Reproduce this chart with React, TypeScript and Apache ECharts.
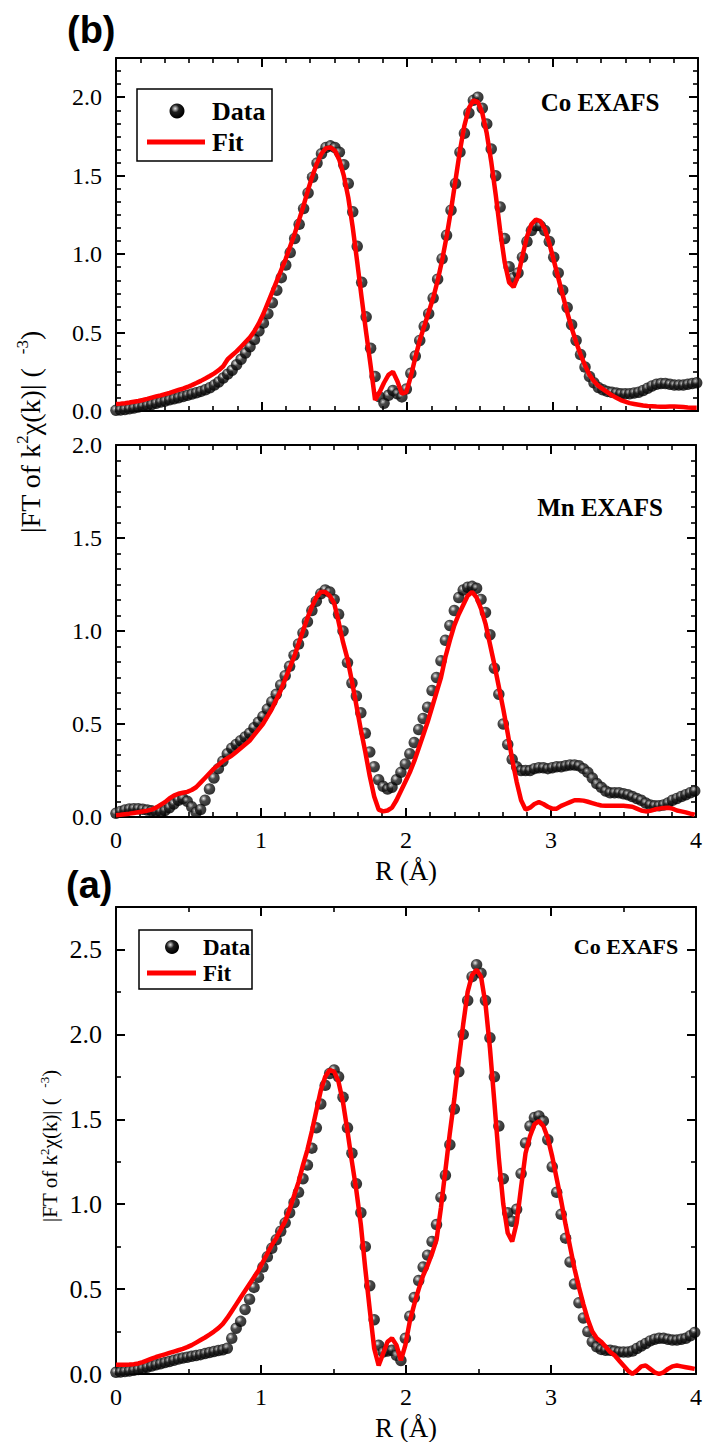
import React, { useEffect, useRef } from "react";
import * as echarts from "echarts";

// R grid step (Å) of the FT data
const R_STEP = 0.0307;

// x tick labels
const xTickLabels = ["0", "1", "2", "3", "4"];

// (b) top panel: Co EXAFS
const coB_data = [
  0.005, 0.007, 0.01, 0.014, 0.019, 0.025, 0.03, 0.036, 0.042, 0.05,
  0.057, 0.064, 0.071, 0.078, 0.085, 0.092, 0.1, 0.108, 0.116, 0.125,
  0.135, 0.148, 0.165, 0.185, 0.21, 0.235, 0.26, 0.295, 0.33, 0.37,
  0.41, 0.455, 0.51, 0.56, 0.62, 0.69, 0.77, 0.85, 0.93, 1.01,
  1.1, 1.19, 1.29, 1.39, 1.49, 1.58, 1.64, 1.68, 1.69, 1.68,
  1.65, 1.57, 1.45, 1.27, 1.05, 0.82, 0.6, 0.4, 0.22, 0.09,
  0.05, 0.1, 0.13, 0.11, 0.09, 0.14, 0.24, 0.35, 0.45, 0.54,
  0.62, 0.72, 0.84, 0.97, 1.12, 1.28, 1.45, 1.65, 1.77, 1.9,
  1.98, 2.0, 1.93, 1.83, 1.67, 1.5, 1.3, 1.1, 0.92, 0.85,
  0.88, 0.98, 1.08, 1.15, 1.18, 1.18, 1.15, 1.08, 0.98, 0.88,
  0.77, 0.66, 0.55, 0.45, 0.36, 0.28, 0.22, 0.18, 0.15, 0.135,
  0.125, 0.12, 0.115, 0.11, 0.11, 0.11, 0.115, 0.12, 0.13, 0.145,
  0.16, 0.17, 0.175, 0.175, 0.17, 0.165, 0.165, 0.165, 0.17, 0.175, 0.18,
];
const coB_fit = [
  0.045, 0.047, 0.05, 0.054, 0.059, 0.064, 0.07, 0.077, 0.085, 0.093,
  0.1, 0.108, 0.116, 0.125, 0.134, 0.143, 0.153, 0.165, 0.178, 0.192,
  0.207, 0.223, 0.24, 0.26, 0.285, 0.33, 0.355, 0.38, 0.41, 0.44,
  0.47, 0.51, 0.56, 0.62, 0.69, 0.76, 0.83, 0.9, 0.97, 1.05,
  1.13, 1.22, 1.31, 1.41, 1.5, 1.58, 1.64, 1.675, 1.68, 1.66,
  1.6, 1.5, 1.36, 1.17, 0.95, 0.72, 0.5, 0.29, 0.07, 0.12,
  0.18, 0.23, 0.25, 0.19, 0.11, 0.12, 0.22, 0.34, 0.45, 0.54,
  0.63, 0.72, 0.83, 0.96, 1.11, 1.28, 1.47, 1.66, 1.82, 1.93,
  1.98, 1.97, 1.9, 1.77, 1.59, 1.38, 1.15, 0.95, 0.82, 0.79,
  0.86, 0.99, 1.11, 1.19, 1.22, 1.21, 1.16, 1.07, 0.96, 0.85,
  0.74, 0.63, 0.53, 0.44, 0.36, 0.29, 0.23, 0.19, 0.16, 0.14,
  0.12, 0.1, 0.085, 0.07, 0.06, 0.05, 0.045, 0.04, 0.035, 0.032,
  0.03, 0.028, 0.027, 0.027, 0.028, 0.028, 0.027, 0.025, 0.022, 0.02, 0.02,
];

// (b) middle panel: Mn EXAFS
const mn_data = [
  0.02, 0.03, 0.038, 0.043, 0.045, 0.045, 0.042, 0.038, 0.033, 0.03,
  0.03, 0.035, 0.05, 0.07, 0.09, 0.1, 0.085, 0.055, 0.025, 0.04,
  0.09, 0.15, 0.21, 0.26, 0.3, 0.34, 0.37, 0.39, 0.41, 0.43,
  0.45, 0.48, 0.51, 0.54, 0.58, 0.62, 0.66, 0.71, 0.76, 0.81,
  0.87, 0.93, 0.99, 1.05, 1.11, 1.16, 1.2, 1.22, 1.21, 1.17,
  1.09, 1.0, 0.83, 0.72, 0.65, 0.56, 0.45, 0.35, 0.27, 0.2,
  0.165, 0.15, 0.16, 0.2, 0.24, 0.285, 0.34, 0.4, 0.47, 0.53,
  0.59, 0.68, 0.75, 0.84, 0.95, 1.03, 1.11, 1.18, 1.22, 1.235,
  1.24, 1.23, 1.17, 1.1, 0.98, 0.8, 0.66, 0.5, 0.39, 0.31,
  0.27, 0.25, 0.25, 0.25, 0.26, 0.265, 0.265, 0.26, 0.265, 0.27,
  0.27, 0.275, 0.28, 0.28, 0.275, 0.26, 0.24, 0.21, 0.18, 0.16,
  0.14, 0.13, 0.13, 0.13, 0.125, 0.12, 0.11, 0.1, 0.09, 0.075,
  0.065, 0.06, 0.06, 0.065, 0.075, 0.09, 0.1, 0.11, 0.12, 0.13, 0.14,
];
const mn_fit = [
  0.01, 0.012, 0.015, 0.018, 0.022, 0.026, 0.03, 0.034, 0.04, 0.05,
  0.065, 0.08, 0.1, 0.115, 0.125, 0.13, 0.135, 0.145, 0.16, 0.185,
  0.21, 0.235, 0.26, 0.28, 0.3, 0.315, 0.33, 0.35, 0.37, 0.39,
  0.41, 0.44, 0.47, 0.5, 0.54, 0.58, 0.63, 0.68, 0.74, 0.8,
  0.86, 0.93, 1.0, 1.07, 1.13, 1.18, 1.21, 1.21, 1.19, 1.15,
  1.05, 0.94, 0.85, 0.73, 0.6, 0.47, 0.35, 0.22, 0.11, 0.04,
  0.03, 0.035, 0.05, 0.09, 0.14, 0.19, 0.24, 0.3, 0.37, 0.44,
  0.51, 0.59, 0.67, 0.75, 0.86, 0.95, 1.03, 1.09, 1.14, 1.19,
  1.21, 1.18, 1.12, 1.04, 0.93, 0.82, 0.7, 0.58, 0.45, 0.31,
  0.19, 0.09, 0.04, 0.05, 0.07, 0.08, 0.07, 0.055, 0.045, 0.045,
  0.06, 0.07, 0.08, 0.09, 0.09, 0.088, 0.082, 0.075, 0.068, 0.062,
  0.06, 0.06, 0.06, 0.06, 0.06, 0.058, 0.055, 0.045, 0.035, 0.03,
  0.033, 0.04, 0.045, 0.048, 0.05, 0.045, 0.035, 0.03, 0.025, 0.018, 0.012,
];

// (a) bottom panel: Co EXAFS
const coA_data = [
  0.01, 0.012, 0.015, 0.018, 0.022, 0.027, 0.033, 0.04, 0.047, 0.054,
  0.06, 0.067, 0.074, 0.081, 0.088, 0.094, 0.099, 0.104, 0.109, 0.114,
  0.12, 0.126, 0.132, 0.138, 0.143, 0.152, 0.21, 0.27, 0.31, 0.38,
  0.44, 0.51, 0.57, 0.63, 0.69, 0.74, 0.79, 0.84, 0.89, 0.95,
  1.01, 1.07, 1.15, 1.23, 1.33, 1.45, 1.59, 1.7, 1.77, 1.79,
  1.75, 1.63, 1.45, 1.3, 1.12, 0.95, 0.75, 0.52, 0.32, 0.17,
  0.13, 0.135, 0.14, 0.11, 0.08, 0.21, 0.34, 0.45, 0.55, 0.63,
  0.7, 0.78, 0.88, 1.04, 1.17, 1.35, 1.56, 1.78, 2.0, 2.2,
  2.34, 2.41, 2.36, 2.2, 1.98, 1.75, 1.46, 1.15, 0.95, 0.9,
  0.97, 1.18, 1.36, 1.46, 1.51, 1.52, 1.49, 1.38, 1.22, 1.07,
  0.94, 0.8, 0.66, 0.53, 0.42, 0.33, 0.25, 0.19, 0.16, 0.145,
  0.14, 0.14, 0.135, 0.13, 0.13, 0.13, 0.135, 0.15, 0.165, 0.18,
  0.195, 0.205, 0.21, 0.21, 0.205, 0.2, 0.2, 0.205, 0.21, 0.225, 0.245,
];
const coA_fit = [
  0.055, 0.055, 0.055, 0.056, 0.058, 0.062, 0.07, 0.08, 0.09, 0.1,
  0.108, 0.116, 0.124, 0.132, 0.14, 0.148, 0.158, 0.17, 0.185, 0.2,
  0.215, 0.232, 0.25, 0.27, 0.295, 0.33, 0.37, 0.41, 0.45, 0.49,
  0.53, 0.57, 0.61, 0.66, 0.71, 0.76, 0.8, 0.85, 0.9, 0.97,
  1.05, 1.13, 1.23, 1.32, 1.43, 1.55, 1.67, 1.75, 1.79, 1.78,
  1.72, 1.6, 1.43, 1.25, 1.08, 0.88, 0.62, 0.38, 0.15, 0.05,
  0.12, 0.19, 0.21, 0.17, 0.08, 0.17, 0.31, 0.41, 0.5, 0.58,
  0.64, 0.71, 0.79, 0.98, 1.2, 1.42, 1.62, 1.85, 2.06, 2.25,
  2.35, 2.38, 2.34, 2.18, 1.92, 1.6, 1.27, 1.0, 0.83, 0.78,
  0.89, 1.1, 1.3, 1.4, 1.47, 1.49, 1.46, 1.39, 1.28, 1.15,
  1.02, 0.88, 0.75, 0.62, 0.51, 0.41, 0.32, 0.25, 0.21, 0.19,
  0.16, 0.13, 0.11, 0.08, 0.05, 0.02, 0.0, 0.02, 0.045, 0.05,
  0.03, 0.01, 0.0, 0.01, 0.03, 0.045, 0.05, 0.045, 0.04, 0.035, 0.03,
];

const SERIF = "Liberation Serif";
const SANS = "Liberation Sans";

function pairs(vals: number[]) {
  return vals.map((v, i) => [Math.round(i * R_STEP * 10000) / 10000, v]);
}

function sphere() {
  return new echarts.graphic.RadialGradient(0.38, 0.34, 0.62, [
    { offset: 0, color: "#e6e6e6" },
    { offset: 0.16, color: "#9a9a9a" },
    { offset: 0.42, color: "#1e1e1e" },
    { offset: 1, color: "#000000" },
  ]);
}

const LEFT = 116;
const WIDTH = 582;

const panels = [
  { top: 58, height: 353, yMax: 2.25, yMinor: 6, xMinor: 6, showX: false, ySize: 24, showMax: false, data: coB_data, fit: coB_fit },
  { top: 445, height: 372, yMax: 2.0, yMinor: 6, xMinor: 6, showX: true, ySize: 24, showMax: true, data: mn_data, fit: mn_fit },
  { top: 907, height: 469, yMax: 2.75, yMinor: 2, xMinor: 2, showX: true, ySize: 26, showMax: false, data: coA_data, fit: coA_fit },
];

function buildOption() {
  const black = "#000";
  const grid = panels.map((p) => ({ left: LEFT, top: p.top, width: WIDTH, height: p.height, containLabel: false }));
  const xAxis: any[] = [];
  const yAxis: any[] = [];
  const series: any[] = [];
  panels.forEach((p, g) => {
    const tick = { show: true, inside: true, length: 9, lineStyle: { color: black, width: 2 } };
    const minorX = { show: true, splitNumber: p.xMinor, length: 5, lineStyle: { color: black, width: 1.6 } };
    const minorY = { show: true, splitNumber: p.yMinor, length: 5, lineStyle: { color: black, width: 1.6 } };
    const line = { show: true, onZero: false, lineStyle: { color: black, width: 2 } };
    xAxis.push({
      type: "value", gridIndex: g, position: "bottom", min: 0, max: 4, interval: 1,
      axisLine: line, axisTick: tick, minorTick: minorX, splitLine: { show: false },
      axisLabel: {
        show: p.showX, color: black, fontFamily: SERIF, fontSize: 24, margin: 11,
        formatter: (v: number) => xTickLabels[Math.round(v)] ?? "",
      },
      name: p.showX ? "R (Å)" : "", nameLocation: "middle", nameGap: 40,
      nameTextStyle: { color: black, fontFamily: SERIF, fontSize: 27 },
    });
    xAxis.push({
      type: "value", gridIndex: g, position: "top", min: 0, max: 4, interval: 1,
      axisLine: line, axisTick: tick, minorTick: minorX, splitLine: { show: false },
      axisLabel: { show: false },
    });
    yAxis.push({
      type: "value", gridIndex: g, position: "left", min: 0, max: p.yMax, interval: 0.5,
      axisLine: line, axisTick: tick, minorTick: minorY, splitLine: { show: false },
      axisLabel: {
        show: true, color: black, fontFamily: SERIF, fontSize: p.ySize, margin: 14,
        showMaxLabel: p.showMax, showMinLabel: true,
        formatter: (v: number) => v.toFixed(1),
      },
    });
    yAxis.push({
      type: "value", gridIndex: g, position: "right", min: 0, max: p.yMax, interval: 0.5,
      axisLine: line, axisTick: tick, minorTick: minorY, splitLine: { show: false },
      axisLabel: { show: false },
    });
    series.push({
      type: "scatter", name: "Data", xAxisIndex: 2 * g, yAxisIndex: 2 * g,
      data: pairs(p.data), symbol: "circle", symbolSize: 11.5,
      itemStyle: { color: sphere() }, z: 2,
    });
    series.push({
      type: "line", name: "Fit", xAxisIndex: 2 * g, yAxisIndex: 2 * g,
      data: pairs(p.fit), showSymbol: false, symbol: "none",
      lineStyle: { color: "#ff0000", width: 4.5 }, z: 3,
    });
  });

  const titleRich = (big: number, small: number) => ({
    a: { fontSize: big, fontFamily: SERIF, fill: black, lineHeight: big + 4, verticalAlign: "middle" },
    s: { fontSize: small, fontFamily: SERIF, fill: black, lineHeight: small, verticalAlign: "top" },
  });
  const titleText = "{a||FT of k}{s|2}{a|χ(k)| (}{a|  }{s|-3}{a|)}";

  const legend = (x: number, y: number, w: number, h: number, fs: number, r: number, lineX1: number, lineX2: number, sx: number, textX: number, row1: number, row2: number) => [
    { type: "rect", shape: { x, y, width: w, height: h }, style: { fill: "#fff", stroke: black, lineWidth: 1.5 }, z: 10 },
    { type: "circle", shape: { cx: sx, cy: row1, r }, style: { fill: sphere() }, z: 11 },
    { type: "text", x: textX, y: row1, style: { text: "Data", fontFamily: SERIF, fontWeight: "bold", fontSize: fs, fill: black, align: "left", verticalAlign: "middle" }, z: 11 },
    { type: "line", shape: { x1: lineX1, y1: row2, x2: lineX2, y2: row2 }, style: { stroke: "#ff0000", lineWidth: 5 }, z: 11 },
    { type: "text", x: textX, y: row2, style: { text: "Fit", fontFamily: SERIF, fontWeight: "bold", fontSize: fs, fill: black, align: "left", verticalAlign: "middle" }, z: 11 },
  ];

  const graphic: any[] = [
    { type: "text", x: 67, y: 30, style: { text: "(b)", fontFamily: SANS, fontWeight: "bold", fontSize: 38, fill: black, align: "left", verticalAlign: "middle" } },
    { type: "text", x: 66, y: 885, style: { text: "(a)", fontFamily: SANS, fontWeight: "bold", fontSize: 38, fill: black, align: "left", verticalAlign: "middle" } },
    { type: "text", x: 600, y: 102, style: { text: "Co EXAFS", fontFamily: SERIF, fontWeight: "bold", fontSize: 25, fill: black, align: "center", verticalAlign: "middle" } },
    { type: "text", x: 600, y: 507, style: { text: "Mn EXAFS", fontFamily: SERIF, fontWeight: "bold", fontSize: 25, fill: black, align: "center", verticalAlign: "middle" } },
    { type: "text", x: 626, y: 946, style: { text: "Co EXAFS", fontFamily: SERIF, fontWeight: "bold", fontSize: 22, fill: black, align: "center", verticalAlign: "middle" } },
    { type: "text", x: 30, y: 432, rotation: Math.PI / 2, style: { text: titleText, rich: titleRich(28, 17), fill: black, fontFamily: SERIF, fontSize: 28, align: "center", verticalAlign: "middle" } },
    { type: "text", x: 50, y: 1146, rotation: Math.PI / 2, style: { text: titleText, rich: titleRich(21, 13), fill: black, fontFamily: SERIF, fontSize: 21, align: "center", verticalAlign: "middle" } },
    ...legend(137, 89, 135, 72, 26, 7.5, 147, 205, 177, 212, 111, 142),
    ...legend(139, 930, 113, 59, 23, 7, 147, 196, 172, 203, 947, 973),
  ];

  return {
    animation: false, backgroundColor: "#fff",
    textStyle: { fontFamily: SERIF },
    grid, xAxis, yAxis, series, graphic,
  };
}

export default function App() {
  const ref = useRef<HTMLDivElement>(null);
  useEffect(() => {
    if (!ref.current) return;
    const chart = echarts.init(ref.current, undefined, { renderer: "svg" });
    chart.setOption(buildOption() as any);
    return () => chart.dispose();
  }, []);
  return <div ref={ref} style={{ position: "absolute", left: 0, top: 0, width: 705, height: 1442, background: "#fff" }} />;
}
